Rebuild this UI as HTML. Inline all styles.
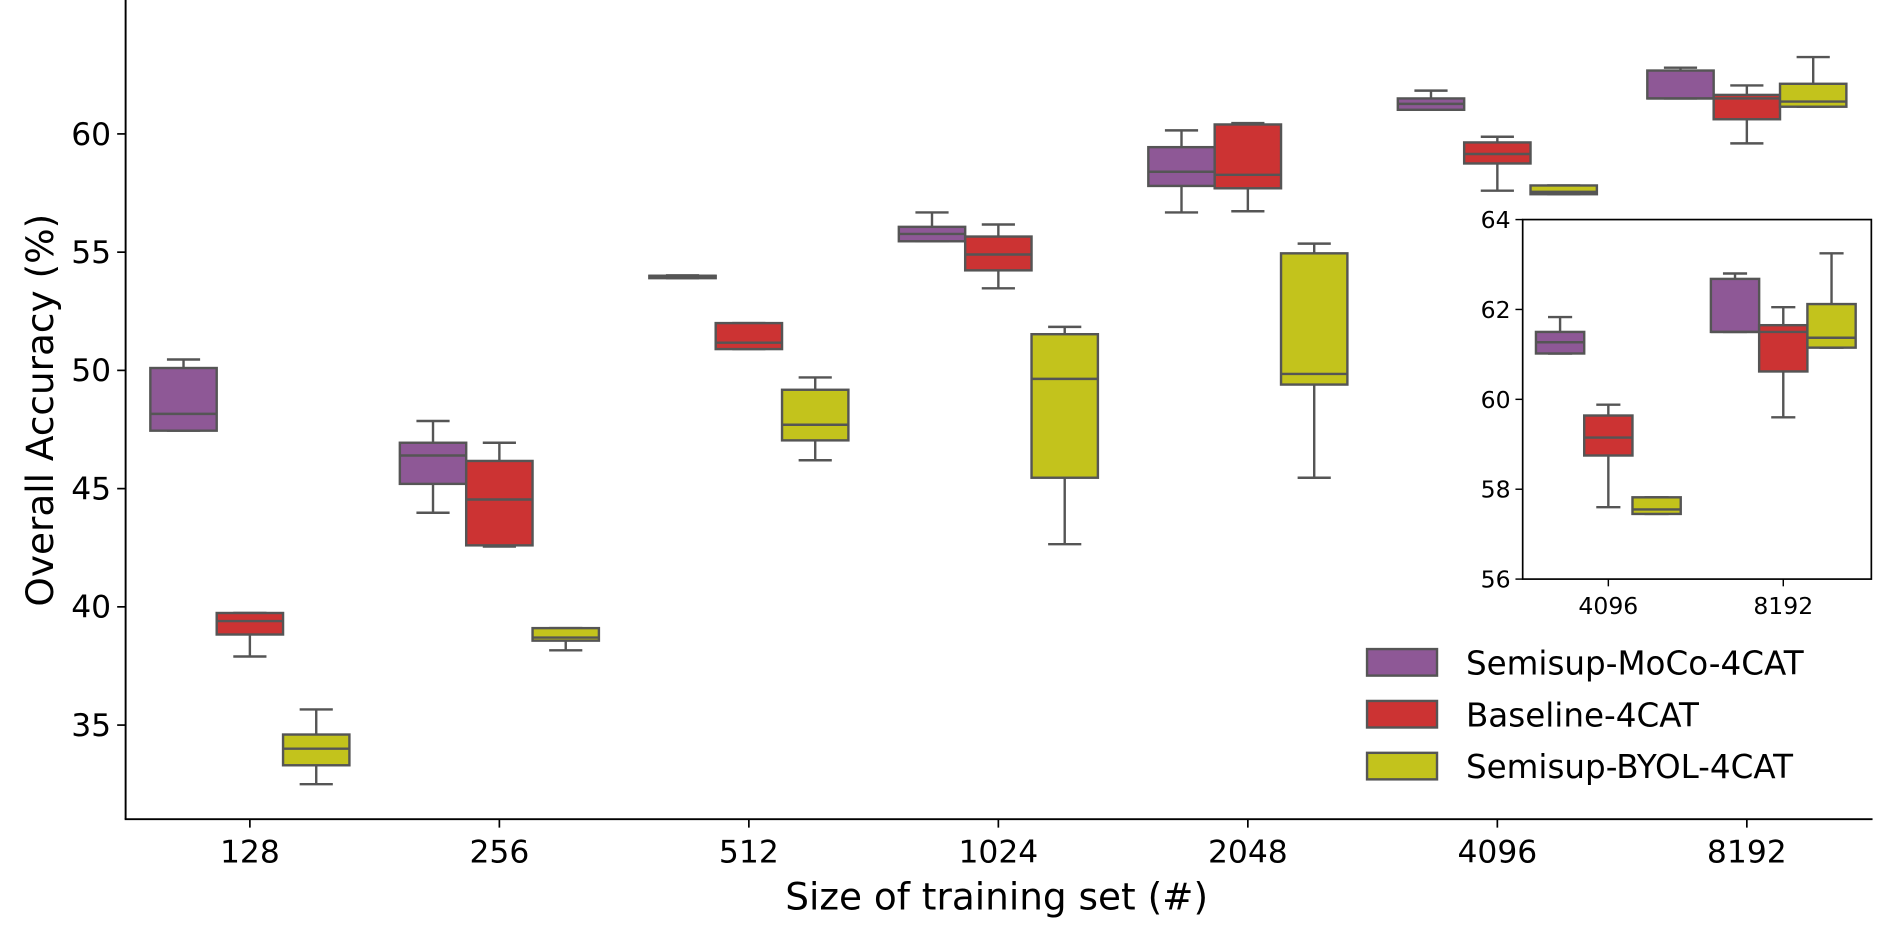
<!DOCTYPE html>
<html><head><meta charset="utf-8"><style>
html,body{margin:0;padding:0;background:#fff;}
svg{display:block;font-family:"DejaVu Sans","Liberation Sans",sans-serif;}
</style></head><body>
<svg id="chart" width="1892" height="935" viewBox="0 0 1568 775" xmlns="http://www.w3.org/2000/svg"></svg>
<script>
const categories = ["128","256","512","1024","2048","4096","8192"];
const seriesNames = ["Semisup-MoCo-4CAT","Baseline-4CAT","Semisup-BYOL-4CAT"];
const seriesColors = ["#8e5896","#cc3333","#c3c31c"];
// [min, q1, median, q3, max]
const mocoStats = [[47.45,47.45,48.16,50.1,50.46],[43.98,45.2,46.4,46.94,47.86],[53.9,53.9,54.0,54.0,54.02],[55.46,55.46,55.77,56.07,56.68],[56.68,57.8,58.4,59.44,60.15],[61.02,61.02,61.27,61.5,61.83],[61.5,61.5,61.5,62.68,62.8]];
const baselineStats = [[37.9,38.83,39.4,39.74,39.74],[42.55,42.6,44.54,46.17,46.94],[50.9,50.9,51.17,52.0,52.0],[53.47,54.23,54.9,55.66,56.17],[56.73,57.7,58.27,60.4,60.46],[57.6,58.75,59.15,59.64,59.88],[59.6,60.62,61.5,61.65,62.05]];
const byolStats = [[32.5,33.3,34.0,34.6,35.66],[38.16,38.57,38.7,39.1,39.1],[46.2,47.04,47.7,49.18,49.7],[42.65,45.46,49.64,51.53,51.84],[45.46,49.4,49.85,54.95,55.36],[57.45,57.45,57.55,57.82,57.82],[61.15,61.15,61.37,62.12,63.25]];
const yTicksMain = [35,40,45,50,55,60];
const yTicksInset = [56,58,60,62,64];
const insetCategories = ["4096","8192"];
const insetIdx = [5,6];

const svg = document.getElementById('chart');
const NS = 'http://www.w3.org/2000/svg';
function mk(tag, attrs, parent){const e=document.createElementNS(NS,tag);for(const k in attrs)e.setAttribute(k,attrs[k]);(parent||svg).appendChild(e);return e;}
const allStats=[mocoStats,baselineStats,byolStats];

const M={l:104,r:1552,t:0,b:679};
const yMain=v=>111-(v-60)*19.6;
const xMain=i=>207+i*206.8;
const bwMain=55;
function drawBox(g,cx,w,s,ys,color,name){
  const grp=mk('g',{},g);
  
  
  const st={stroke:'#555','stroke-width':2,fill:'none'};
  mk('line',Object.assign({x1:cx,x2:cx,y1:ys(s[4]),y2:ys(s[3])},st),grp);
  mk('line',Object.assign({x1:cx,x2:cx,y1:ys(s[1]),y2:ys(s[0])},st),grp);
  mk('line',Object.assign({x1:cx-w/4,x2:cx+w/4,y1:ys(s[4]),y2:ys(s[4])},st),grp);
  mk('line',Object.assign({x1:cx-w/4,x2:cx+w/4,y1:ys(s[0]),y2:ys(s[0])},st),grp);
  mk('rect',{x:cx-w/2,y:ys(s[3]),width:w,height:Math.max(ys(s[1])-ys(s[3]),0.5),fill:color,stroke:'#555','stroke-width':2},grp);
  mk('line',Object.assign({x1:cx-w/2,x2:cx+w/2,y1:ys(s[2]),y2:ys(s[2])},st),grp);
}
const gMain=mk('g',{});


categories.forEach((c,i)=>{
  allStats.forEach((S,k)=>{drawBox(gMain,xMain(i)+(k-1)*bwMain,bwMain,S[i],yMain,seriesColors[k],'box-'+c+'-'+k);});
});
let ax=mk('line',{x1:M.l,x2:M.l,y1:M.t,y2:M.b,stroke:'#000','stroke-width':1.6});

ax=mk('line',{x1:M.l-0.8,x2:M.r,y1:M.b,y2:M.b,stroke:'#000','stroke-width':1.6});

yTicksMain.forEach(v=>{
  mk('line',{x1:M.l-7,x2:M.l,y1:yMain(v),y2:yMain(v),stroke:'#000','stroke-width':1.4});
  const t=mk('text',{x:M.l-12,y:yMain(v)+9,'text-anchor':'end','font-size':26});
  t.textContent=v;
  
});
categories.forEach((c,i)=>{
  mk('line',{x1:xMain(i),x2:xMain(i),y1:M.b,y2:M.b+7,stroke:'#000','stroke-width':1.4});
  const t=mk('text',{x:xMain(i),y:M.b+36,'text-anchor':'middle','font-size':26});
  t.textContent=c;
  
});
let t=mk('text',{x:826,y:754,'text-anchor':'middle','font-size':31});
t.textContent='Size of training set (#)';

t=mk('text',{x:0,y:0,'text-anchor':'middle','font-size':31,transform:'translate(44,340) rotate(-90)'});
t.textContent='Overall Accuracy (%)';


const I={l:1262,r:1551,t:182,b:480};
const yIn=v=>I.t+(64-v)*(I.b-I.t)/8;
const xIn=j=>1333+j*145;
const bwIn=40;
const gIn=mk('g',{});


mk('rect',{x:I.l,y:I.t,width:I.r-I.l,height:I.b-I.t,fill:'#fff',stroke:'none'},gIn);
insetIdx.forEach((ci,j)=>{
  allStats.forEach((S,k)=>{drawBox(gIn,xIn(j)+(k-1)*bwIn,bwIn,S[ci],yIn,seriesColors[k],'inset-box-'+insetCategories[j]+'-'+k);});
});
mk('rect',{x:I.l,y:I.t,width:I.r-I.l,height:I.b-I.t,fill:'none',stroke:'#000','stroke-width':1.4},gIn);
yTicksInset.forEach(v=>{
  mk('line',{x1:I.l-6,x2:I.l,y1:yIn(v),y2:yIn(v),stroke:'#000','stroke-width':1.2},gIn);
  const tt=mk('text',{x:I.l-10,y:yIn(v)+7,'text-anchor':'end','font-size':19.5},gIn);
  tt.textContent=v;
  
});
insetCategories.forEach((c,j)=>{
  mk('line',{x1:xIn(j),x2:xIn(j),y1:I.b,y2:I.b+6,stroke:'#000','stroke-width':1.2},gIn);
  const tt=mk('text',{x:xIn(j),y:I.b+29,'text-anchor':'middle','font-size':19.5},gIn);
  tt.textContent=c;
  
});

const gL=mk('g',{});


seriesNames.forEach((n,k)=>{
  const y=538+k*43;
  const e=mk('g',{},gL);
  
  
  mk('rect',{x:1133,y:y,width:58,height:22,fill:seriesColors[k],stroke:'#555','stroke-width':2},e);
  const tt=mk('text',{x:1215,y:y+21,'font-size':27},e);
  tt.textContent=n;
});
</script>
</body></html>
